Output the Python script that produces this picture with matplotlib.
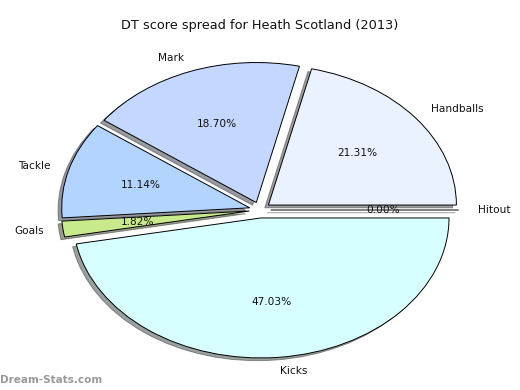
import matplotlib.pyplot as plt

labels = ['Hitout', 'Handballs', 'Mark', 'Tackle', 'Goals', 'Kicks']
shares = [0.00, 21.31, 18.70, 11.14, 1.82, 47.03]
colours = ['#ffffff', '#eaf1ff', '#c4d8ff', '#b3d4ff', '#c9ea8c', '#d8ffff']
explode = [0.057] * len(labels)

fig = plt.figure(figsize=(5.2, 3.9), dpi=100)
ax = fig.add_axes([25 / 520, 5 / 390, 470 / 520, 350 / 390])

ax.pie(shares, labels=labels, colors=colours, explode=explode,
       autopct='%1.2f%%', startangle=0,
       shadow={'ox': -0.014, 'oy': -0.014, 'shade': 0.75},
       wedgeprops={'edgecolor': 'black', 'linewidth': 0.7},
       textprops={'fontsize': 7.6, 'color': '#111111'})

ax.set_aspect('auto')
ax.set_xlim(-1.25, 1.25)
ax.set_ylim(-1.25, 1.25)
ax.axis('off')

fig.text(0.5, 1 - 25 / 390, 'DT score spread for Heath Scotland (2013)',
         ha='center', va='center', fontsize=9.3, color='#111111')
fig.text(0.0, 1 - 380 / 390, 'Dream-Stats.com', ha='left', va='center',
         fontsize=7.5, color='#999999', fontweight='bold')

fig.savefig('out.png', dpi=100)
